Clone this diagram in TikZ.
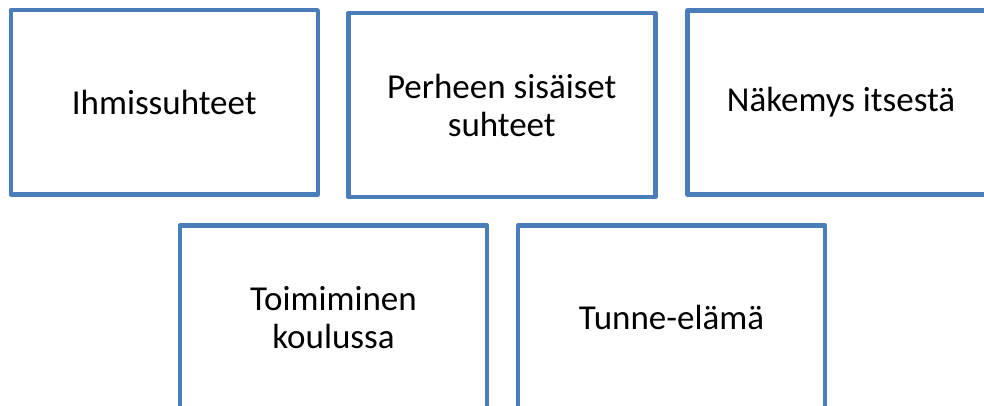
\documentclass[tikz,border=0pt]{standalone}
\usepackage{fontspec}
\setmainfont{Carlito}
\definecolor{boxblue}{HTML}{4A7EBB}
\begin{document}
\begin{tikzpicture}[x=1pt,y=-1pt,
  card/.style={draw=boxblue, line width=4.5pt, line join=round, fill=white,
    rectangle, minimum width=307pt, minimum height=184pt, inner sep=0pt,
    align=center, font=\fontsize{35}{38}\selectfont}]
\useasboundingbox[fill=white] (0,0) rectangle (984,406);
\node[card] (ihm) at (164.25,102.25) {Ihmissuhteet};
\node[card] (per) at (501.75,105) {Perheen sisäiset\\suhteet};
\node[card] (nak) at (841,102.5) {Näkemys itsestä};
\node[card] (toi) at (333.5,317.5) {Toimiminen\\koulussa};
\node[card] (tun) at (671.5,317.5) {Tunne-elämä};
\end{tikzpicture}
\end{document}
